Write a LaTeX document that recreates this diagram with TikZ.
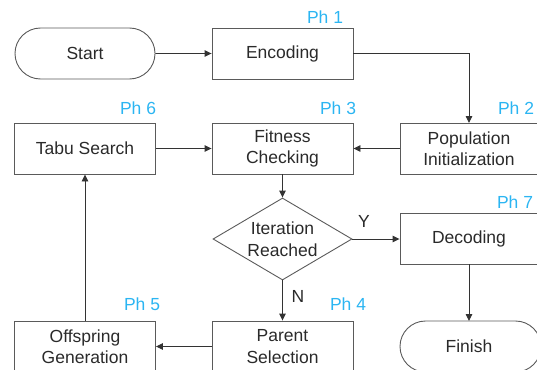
\documentclass[tikz,border=0pt]{standalone}
\usepackage{fontspec}
\setmainfont{Liberation Sans}
\usetikzlibrary{arrows.meta,shapes.geometric,shapes.misc}
\definecolor{lineC}{HTML}{5A5A5A}
\definecolor{txtC}{HTML}{2A2A2A}
\definecolor{phC}{HTML}{2BB5F2}
\tikzset{
  box/.style={draw=lineC, line width=0.9pt, minimum width=141pt, minimum height=51pt, inner sep=0pt, align=center, text=txtC, font=\fontsize{17.5}{21.5}\selectfont},
  term/.style={box, rounded rectangle, minimum width=140pt},
  dia/.style={draw=lineC, line width=0.9pt, diamond, aspect=1.7, minimum width=139pt, minimum height=82pt, inner sep=0pt, align=center, text=txtC, font=\fontsize{17.5}{21.5}\selectfont},
  ph/.style={text=phC, font=\fontsize{17.5}{21}\selectfont, inner sep=0pt},
  lab/.style={text=txtC, font=\fontsize{17.5}{21.5}\selectfont, inner sep=0pt},
  arr/.style={draw=black!80, line width=0.9pt, -{Triangle[length=7pt,width=6.5pt]}},
  ln/.style={draw=black!80, line width=0.9pt}
}
\begin{document}
\begin{tikzpicture}[x=1pt,y=-1pt]
\useasboundingbox (0,0) rectangle (537,369);
\clip (0,0) rectangle (537,369);
\node[term] (start) at (85,53.5) {Start};
\node[box] (enc) at (282.5,53.5) {Encoding};
\node[box] (tabu) at (85,148.5) {Tabu Search};
\node[box] (fit) at (282.5,148.5) {Fitness\\Checking};
\node[box, minimum width=141pt] (pop) at (470.5,148.5) {};
\node[lab, align=center] (poptxt) at (469,148.5) {Population\\Initialization};
\node[dia] (iter) at (282.5,239) {Iteration\\Reached};
\node[box] (dec) at (470.5,239) {};
\node[lab] (dectxt) at (469,239) {Decoding};
\node[box] (par) at (282.5,346.5) {Parent\\Selection};
\node[box] (off) at (85,346.5) {Offspring\\Generation};
\node[term, minimum width=141pt] (fin) at (470.5,346.5) {};
\node[lab] (fintxt) at (469,346.5) {Finish};
\coordinate (pintop) at (469,123);
\coordinate (dbot) at (469,264);
\coordinate (ftop) at (469,321);

\node[ph] (p1) at (325,17) {Ph 1};
\node[ph] (p6) at (138,108) {Ph 6};
\node[ph] (p3) at (338,108) {Ph 3};
\node[ph] (p2) at (516,108) {Ph 2};
\node[ph] (p7) at (515,202) {Ph 7};
\node[ph] (p4) at (348,304) {Ph 4};
\node[ph] (p5) at (142,304) {Ph 5};
\node[lab] (y) at (364,221) {Y};
\node[lab] (n) at (298,296) {N};

\draw[arr] (start) -- (enc);
\draw[arr] (enc.east) -| (pintop);
\draw[arr] (pop.west) -- (fit.east);
\draw[arr] (tabu) -- (fit);
\draw[arr] (fit) -- (iter);
\draw[arr] (iter.east) -- (dec.west);
\draw[arr] (dbot) -- (ftop);
\draw[arr] (iter.south) -- (par.north);
\draw[arr] (par) -- (off);
\draw[arr] (off) -- (tabu);
\end{tikzpicture}
\end{document}
